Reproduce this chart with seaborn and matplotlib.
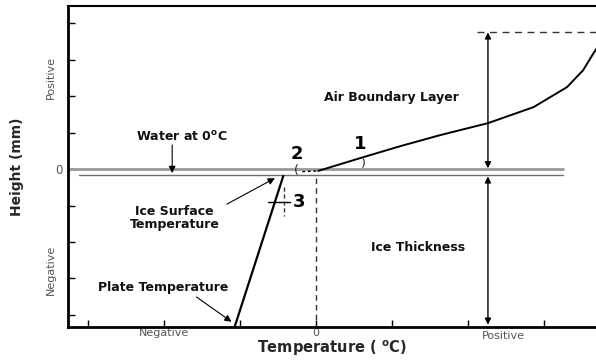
import numpy as np
import pandas as pd
import seaborn as sns
import matplotlib.pyplot as plt
from matplotlib.transforms import blended_transform_factory

# Temperature profile through ice and air boundary layer (arbitrary units)
air_x = [0.03, 0.58, 1.11, 1.63, 2.26, 2.86, 3.30, 3.51, 3.63, 3.70]
air_y = [-0.05, 0.30, 0.63, 0.93, 1.26, 1.70, 2.25, 2.71, 3.12, 3.35]
ice_x = [-1.08, -0.43]
ice_y = [-4.40, -0.19]
water_level = 0.0
ice_surface_level = -0.16
boundary_top = 3.75
arrow_x = 2.26

xticks = [-3, -2, -1, 0, 1, 2, 3]
xtick_labels = ["", "Negative", "", "0", "", "", ""]
yticks = [-4, -3, -2, -1, 0, 1, 2, 3, 4]
ytick_labels = ["", "", "", "", "0", "", "", "", ""]

sns.set_style("ticks")
plt.rcParams['font.family'] = ['DejaVu Sans']

fig = plt.figure(figsize=(5.96, 3.62), dpi=100)
ax = fig.add_axes([0.114, 0.097, 0.886, 0.886])
xmin, xmax = -3.26, 3.68
ymin, ymax = -4.33, 4.47

# horizontal reference lines
sns.lineplot(x=[xmin, 3.25], y=[water_level, water_level], color="#9a9a9a", lw=2, ax=ax)
sns.lineplot(x=[-3.12, 3.25], y=[ice_surface_level, ice_surface_level], color="#6e6e6e", lw=1, ax=ax)

# temperature profiles
air = pd.DataFrame({"x": air_x, "y": air_y})
sns.lineplot(data=air, x="x", y="y", sort=False, color="black", lw=1.4, ax=ax)
sns.lineplot(x=ice_x, y=ice_y, color="black", lw=1.6, ax=ax)
ax.plot([-0.18, 0.03], [-0.07, -0.05], color="black", lw=1, ls=(0, (2, 2)))

# dashed guides
ax.plot([0, 0], [-0.25, ymin], color="#333333", lw=1, ls=(0, (4, 3)))
ax.plot([-0.42, -0.42], [-0.5, -1.3], color="#333333", lw=1, ls=(0, (3, 2)))
ax.plot([2.12, xmax], [boundary_top, boundary_top], color="#333333", lw=1, ls=(0, (5, 4)))

# double-headed arrows
akw = dict(arrowstyle="<|-|>", color="black", lw=1, mutation_scale=9, shrinkA=0, shrinkB=0)
ax.annotate("", xy=(arrow_x, boundary_top), xytext=(arrow_x, 0.02), arrowprops=akw)
ax.annotate("", xy=(arrow_x, -0.2), xytext=(arrow_x, -4.27), arrowprops=akw)

# single arrows
skw = dict(arrowstyle="-|>", color="black", lw=0.8, mutation_scale=10, shrinkA=0, shrinkB=0)
ax.annotate("", xy=(-1.89, -0.11), xytext=(-1.89, 0.66), arrowprops=skw)
ax.annotate("", xy=(-0.54, -0.25), xytext=(-1.17, -0.96), arrowprops=skw)
ax.annotate("", xy=(-1.11, -4.19), xytext=(-1.57, -3.51), arrowprops=skw)

# labels
bold = dict(fontweight="bold", fontsize=9, ha="center", va="center", color="#111111")
ax.text(0.99, 1.95, "Air Boundary Layer", **bold)
ax.text(-1.76, 0.88, r"Water at 0$^{\mathbf{o}}$C", **bold)
ax.text(-1.86, -1.34, "Ice Surface\nTemperature", linespacing=0.95, **bold)
ax.text(-2.01, -3.26, "Plate Temperature", **bold)
ax.text(1.34, -2.16, "Ice Thickness", **bold)

num = dict(fontweight="bold", fontsize=13, ha="center", va="center", color="black")
ax.text(0.58, 0.68, "1", **num)
ax.text(-0.25, 0.40, "2", **num)
ax.text(-0.22, -0.90, "3", **num)
ax.text(0.62, 0.16, ")", fontsize=9, ha="center", va="center")
ax.text(-0.26, -0.03, "(", fontsize=9, ha="center", va="center")
ax.plot([-0.63, -0.34], [-0.9, -0.9], color="black", lw=1)

ax.set_xlim(xmin, xmax)
ax.set_ylim(ymin, ymax)
ax.set_xticks(xticks)
ax.set_xticklabels(xtick_labels)
ax.set_yticks(yticks)
ax.set_yticklabels(ytick_labels)
ax.tick_params(axis="both", direction="in", length=5, width=1, labelsize=8.5,
               labelcolor="#555555", color="black", pad=4)
ax.tick_params(axis="x", pad=1, labelsize=8)

ty = blended_transform_factory(ax.transAxes, ax.transData)
tx = blended_transform_factory(ax.transData, ax.transAxes)
ax.text(-0.033, 2.5, "Positive", transform=ty, rotation=90, fontsize=8,
        ha="center", va="center", color="#555555")
ax.text(-0.033, -2.77, "Negative", transform=ty, rotation=90, fontsize=8,
        ha="center", va="center", color="#555555")
ax.text(2.46, -0.012, "Positive", transform=tx, fontsize=8,
        ha="center", va="top", color="#555555")

ax.set_xlabel(r"Temperature ( $^{\mathbf{o}}$C)", fontsize=10.5, fontweight="bold", labelpad=0)
ax.set_ylabel("Height (mm)", fontsize=10, fontweight="bold", labelpad=22)

for side in ["left", "bottom"]:
    ax.spines[side].set_linewidth(2)
ax.spines["top"].set_linewidth(1.5)
ax.spines["right"].set_visible(False)
for s in ax.spines.values():
    s.set_color("black")

fig.savefig("out.png", dpi=100)
